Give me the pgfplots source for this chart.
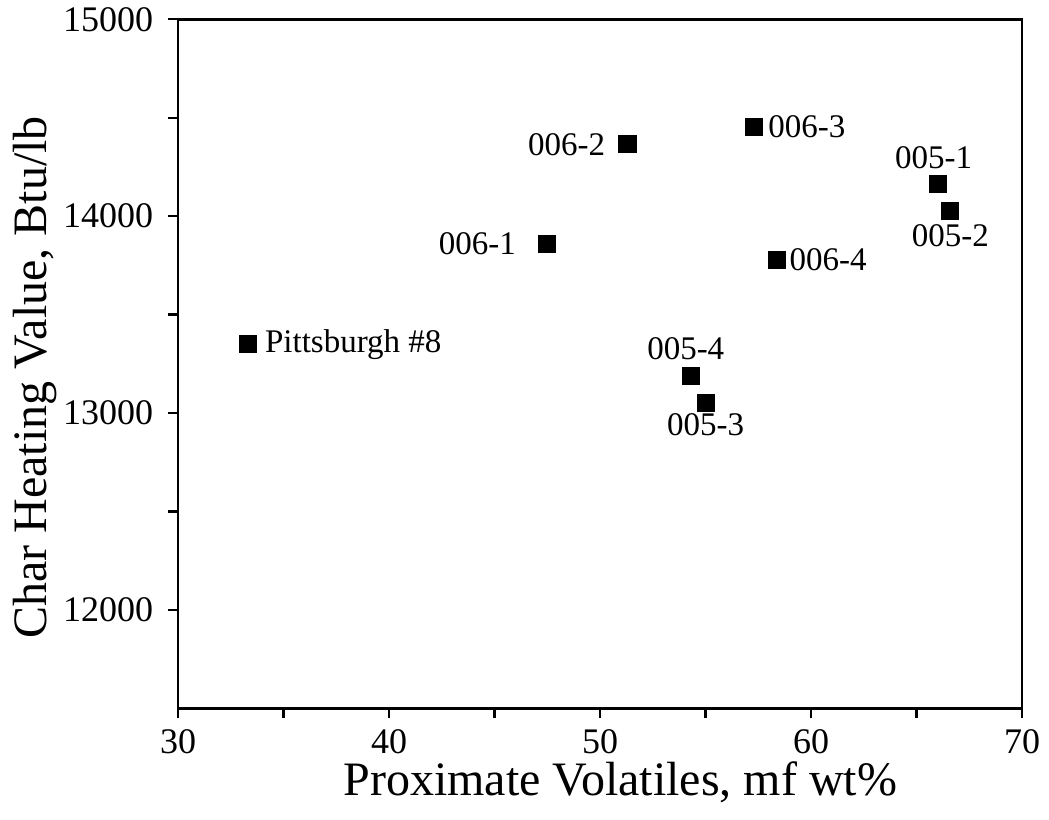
\documentclass[border=0pt]{standalone}
\usepackage{fontspec}
\setmainfont{Liberation Serif}
\usepackage{pgfplots}
\pgfplotsset{compat=1.18}

% one point per sample: volatiles (mf wt%), heating value (Btu/lb)
\pgfplotsset{
    pt/.style n args={3}{only marks, mark=square*, mark size=4.3bp, black,
        nodes near coords={#1},
        every node near coord/.append style={#2, #3, inner sep=0pt, black,
            font=\fontsize{16.5bp}{19bp}\selectfont}},
}

\begin{document}
\begin{tikzpicture}
\begin{axis}[
    scale only axis,
    width=422bp, height=344.5bp,
    xmin=30, xmax=70, ymin=11500, ymax=15000,
    xtick={30,40,...,70}, ytick={12000,13000,14000,15000},
    minor x tick num=1, minor y tick num=1,
    xtick pos=bottom, ytick pos=left,
    tick align=outside,
    major tick length=5bp, minor tick length=5bp,
    axis line style={line width=1.4bp},
    every tick/.style={black, line width=1.2bp},
    scaled ticks=false,
    /pgf/number format/1000 sep={},
    /pgf/number format/assume math mode=true,
    tick label style={font=\fontsize{18bp}{21bp}\selectfont},
    xticklabel style={yshift=-2bp},
    yticklabel style={xshift=-4bp},
    xlabel={Proximate Volatiles, mf wt\%},
    ylabel={Char Heating Value, Btu/lb},
    every axis x label/.style={at={(rel axis cs:0.524,-0.107)}, anchor=center,
        font=\fontsize{24bp}{28bp}\selectfont},
    every axis y label/.style={at={(rel axis cs:-0.169,0.48)}, rotate=90, anchor=center,
        font=\fontsize{24bp}{28bp}\selectfont},
    clip=false,
]
\path[use as bounding box] (rel axis cs:-0.211,-0.161) rectangle (rel axis cs:1.032,1.028);
\addplot[pt={Pittsburgh \#8}{anchor=base west}{xshift=8.5bp, yshift=-4bp}] coordinates {(33.3,13350)};
\addplot[pt={006-1}{anchor=east}{xshift=-15.5bp}] coordinates {(47.5,13858)};
\addplot[pt={006-2}{anchor=east}{xshift=-11bp}] coordinates {(51.3,14365)};
\addplot[pt={006-3}{anchor=west}{xshift=7bp}] coordinates {(57.3,14452)};
\addplot[pt={005-1}{anchor=south}{xshift=-2bp, yshift=7.5bp}] coordinates {(66.0,14162)};
\addplot[pt={005-2}{anchor=north}{yshift=-6.5bp}] coordinates {(66.6,14025)};
\addplot[pt={006-4}{anchor=west}{xshift=6bp}] coordinates {(58.4,13777)};
\addplot[pt={005-4}{anchor=south}{xshift=-2.5bp, yshift=8bp}] coordinates {(54.3,13188)};
\addplot[pt={005-3}{anchor=north}{yshift=-5bp}] coordinates {(55.0,13051)};
\end{axis}
\end{tikzpicture}
\end{document}
